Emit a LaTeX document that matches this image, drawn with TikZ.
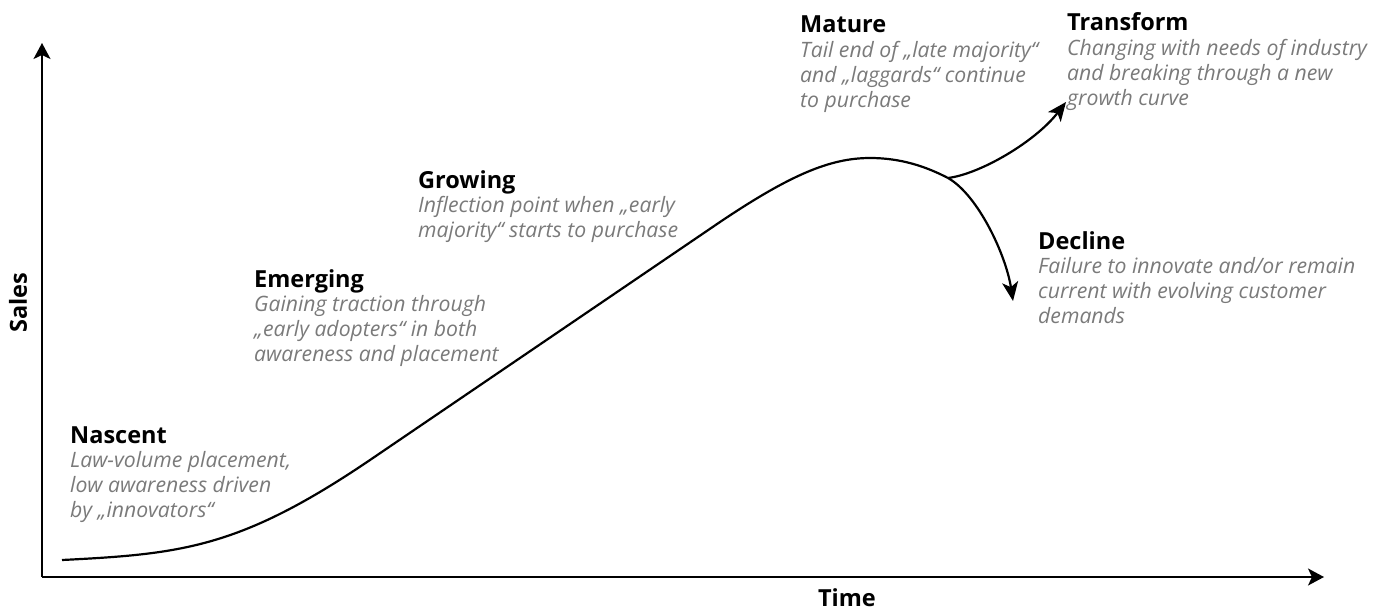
\documentclass[tikz,border=0pt]{standalone}
\usepackage{fontspec}
\setmainfont{Open Sans}
\usetikzlibrary{positioning,arrows.meta}
\definecolor{notegray}{HTML}{7A7A7A}
\tikzset{
  stage/.style={anchor=base west, inner sep=0pt, font=\fontsize{23.5}{26}\selectfont\bfseries},
  note/.style={inner sep=0pt, align=left, text=notegray,
    font=\fontsize{21.2}{25}\selectfont\itshape},
  axis/.style={line width=2pt, -{Stealth[length=16pt,width=17pt,inset=4pt]}},
  curve/.style={line width=2.2pt},
  branch/.style={line width=2.2pt, -{Stealth[length=19pt,width=16pt,inset=5pt]}}
}
\begin{document}
\begin{tikzpicture}[x=1pt,y=1pt]
  \useasboundingbox (0,0) rectangle (1396,-610);
  % axes
  \coordinate (origin) at (42,-577);
  \coordinate (ytop) at (42,-43);
  \coordinate (xend) at (1324,-577);
  \draw [axis] (origin) -- (ytop);
  \draw [axis] (origin) -- (xend);
  \node [font=\fontsize{23.5}{26}\selectfont\bfseries, rotate=90] (sales) at (18,-303) {Sales};
  \node [font=\fontsize{23.5}{26}\selectfont\bfseries] (time) at (847,-598) {Time};
  % growth curve
  \coordinate (start) at (62,-560);
  \coordinate (bend) at (370,-460);
  \coordinate (turn) at (720,-222);
  \coordinate (peak) at (870,-158);
  \coordinate (split) at (948,-178);
  \coordinate (transform end) at (1066,-102);
  \coordinate (decline end) at (1013,-301);
  \draw [curve] (start) .. controls (182,-554) and (240,-548) .. (bend)
    -- (turn) .. controls (790,-175) and (830,-158) .. (peak)
    .. controls (900,-158) and (925,-166) .. (split);
  \draw [branch] (split) .. controls (980,-174) and (1035,-142) .. (transform end);
  \draw [branch] (split) .. controls (978,-195) and (1006,-255) .. (decline end);
  % stages
  \node [stage] (nascent) at (70,-443) {Nascent};
  \node [note, below=8pt of nascent.base west, anchor=north west] (nascent note)
    {Law-volume placement,\\low awareness driven\\by „innovators“};
  \node [stage] (emerging) at (254,-287) {Emerging};
  \node [note, below=8pt of emerging.base west, anchor=north west] (emerging note)
    {Gaining traction through\\„early adopters“ in both\\awareness and placement};
  \node [stage] (growing) at (418,-188) {Growing};
  \node [note, below=8pt of growing.base west, anchor=north west] (growing note)
    {Inflection point when „early\\majority“ starts to purchase};
  \node [stage] (mature) at (800,-33) {Mature};
  \node [note, below=8pt of mature.base west, anchor=north west] (mature note)
    {Tail end of „late majority“\\and „laggards“ continue\\to purchase};
  \node [stage] (transform) at (1067,-31) {Transform};
  \node [note, below=8pt of transform.base west, anchor=north west] (transform note)
    {Changing with needs of industry\\and breaking through a new\\growth curve};
  \node [stage] (decline) at (1038,-249) {Decline};
  \node [note, below=8pt of decline.base west, anchor=north west] (decline note)
    {Failure to innovate and/or remain\\current with evolving customer\\demands};
\end{tikzpicture}
\end{document}
